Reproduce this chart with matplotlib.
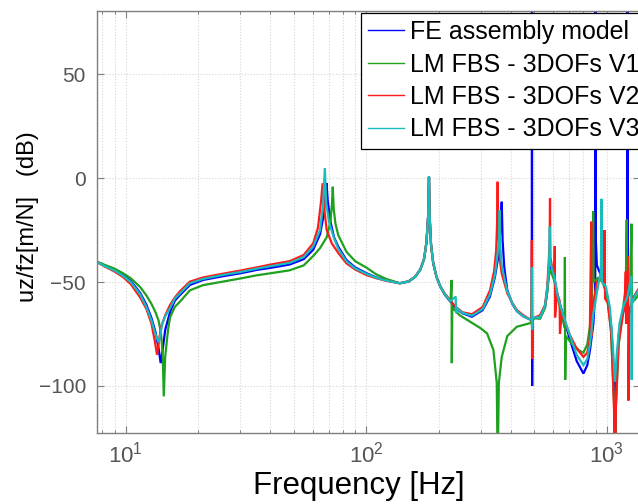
import matplotlib
matplotlib.use("Agg")
import matplotlib.pyplot as plt
from matplotlib.ticker import LogLocator, NullFormatter

# ---------------- data (frequency [Hz], magnitude [dB]) ----------------
labels = ["FE assembly model", "LM FBS - 3DOFs V1", "LM FBS - 3DOFs V2", "LM FBS - 3DOFs V3"]
colors = ["#0000ff", "#1fa01f", "#ff1a1a", "#19bcbc"]

fe = [(7.6,-40.4),(8.2,-42.3),(9.0,-44.2),(9.75,-46.6),(10.5,-49.5),(11.5,-55.3),(12.2,-61),(12.8,-67.3),
      (13.3,-74),(13.7,-81.7),(13.98,-89),(14.2,-84),(14.6,-73),(15.3,-64.4),(16.0,-59),(16.8,-56.3),
      (18.5,-51.4),(21,-49),(25.4,-47.2),(30,-45.8),(35,-44.2),(40,-43.2),(48,-41.6),(55,-39),(60.2,-34.5),
      (64.3,-27),(66.5,-18),(67.8,-8),(68.4,-2.5),(69.2,-11),(71,-21),(73.5,-28.5),(76.5,-33),(82.7,-39.4),
      (90,-43),(100,-45.7),(110,-47.8),(121,-49.2),(138,-50.6),(150,-49.8),(160,-47.5),(168,-44),(174,-39),
      (178,-31),(181,-18),(182.4,0.5),(183.5,-18),(186,-32),(190,-41),(196,-47.5),(203,-52),(212,-56),
      (224,-59.5),(236,-62.5),(251,-65),(275,-66.7),(305,-63.5),(327,-57),(343,-47.5),(355,-37),(361,-25),
      (366,-11.4),(369,-30),(375,-43),(386,-54),(405,-60.5),(423,-64),(450,-66.5),(480,-68),(488,-68.5),
      (489,95),(489.6,-100),(491,-68),(503,-67.2),(528,-67.5),(554,-62),(566,-54),(574,-46),(578,-41.8),
      (584,-43),(593,-44),(604,-47.4),(626,-57),(655,-65),(700,-77),(750,-88),(800,-94),(830,-90),
      (852,-82.7),(880,-70),(895,-55),(899,95),(901,-30),(910,-42),(940,-46),(970,-50),(1010,-58),
      (1045,-72),(1070,-95),(1082,-140),(1095,-98),(1120,-76),(1160,-66),(1200,-60),(1218,-55),
      (1220,95),(1223,-68),(1250,-63),(1290,-58),(1330,-55),(1375,-53)]

v1 = [(7.6,-40.2),(8.2,-41.8),(9.0,-43.6),(9.75,-45.8),(10.5,-48.2),(11.5,-52.5),(12.2,-56.5),(12.8,-60.5),
      (13.3,-64.5),(13.7,-68.5),(14.0,-74),(14.25,-84),(14.4,-105),(14.6,-86),(15.0,-73),(15.3,-67),
      (16.0,-62),(16.8,-59.5),(18.5,-54),(21,-51.5),(25.4,-49.8),(30,-48.3),(35,-46.8),(40,-45.8),
      (48,-44.4),(55,-42),(60.2,-37.5),(64.3,-33.7),(68.5,-28.5),(71,-21),(72.1,-12),(72.6,-4.2),
      (73.3,-15),(74.5,-22),(76.5,-27.4),(82.7,-35.4),(90,-40),(100,-43),(110,-46.3),(121,-48.5),
      (138,-50.6),(150,-49.8),(160,-47.5),(168,-44),(174,-39),(178,-31),(181,-18),(182.4,0.5),
      (183.5,-18),(186,-32),(190,-41),(196,-47.5),(203,-52),(212,-56),(224,-59),(226.4,-49),(226.9,-89),
      (228,-62),(231,-63),(245,-66),(261,-68),(297,-72),(318,-74.7),(338,-82.7),(349,-98.6),(352,-140),
      (356,-98.6),(366,-86),(386,-76),(423,-71.5),(480,-69.8),(487,-69),(488.5,-55),(489.6,-78),
      (492,-68),(503,-67.5),(528,-67.5),(554,-62.5),(566,-55),(575,-47),(580,-44),(590,-46),(604,-49),
      (626,-58),(650,-66),(668,-72),(670,-38),(672,-97),(676,-76),(720,-80),(770,-83),(800,-84),
      (830,-80),(860,-68),(875,-45),(878,-16),(882,-50),(920,-48),(960,-50),(1000,-56),(1040,-72),
      (1075,-110),(1082,-140),(1090,-110),(1120,-80),(1160,-66),(1200,-52),(1211,-20),(1214,-58),
      (1250,-55),(1268,-22),(1272,-60),(1320,-58),(1375,-55)]

v2 = [(7.6,-40.4),(8.2,-42.6),(9.0,-45),(9.75,-47.6),(10.5,-51),(11.5,-57.5),(12.2,-63),(12.8,-70),
      (13.2,-78),(13.5,-85),(13.7,-80),(14.0,-72),(14.6,-66),(15.3,-61),(16.0,-57.5),(16.8,-54.5),
      (18.5,-49.8),(21,-47.8),(25.4,-46),(30,-44.5),(35,-43),(40,-41.6),(48,-40),(55,-37),(60.2,-31.4),
      (63,-24),(64.8,-12),(65.9,-2.5),(66.8,-14),(68.5,-25),(72,-31.5),(76.5,-36),(82.7,-41),(90,-44),
      (100,-46.6),(110,-48.2),(121,-49.4),(138,-50.6),(150,-49.6),(160,-47.3),(168,-43.8),(174,-38.8),
      (178,-31),(181,-18),(182.4,0.5),(183.5,-18),(186,-32),(190,-41),(196,-47.5),(203,-52),(212,-55.5),
      (224,-59),(236,-62),(251,-64.5),(275,-65.5),(305,-62),(327,-54),(340,-45),(347,-35),(350,-22),
      (352,-1.8),(354,-25),(360,-40),(366,-46),(386,-55.4),(405,-60),(423,-63.5),(450,-66),(480,-68),
      (487,-68),(488.3,-30),(489.3,-87),(491,-68),(503,-67),(528,-66),(554,-61),(566,-52),(574,-40),
      (579,-30),(581,-9.8),(583,-38),(593,-43),(605,-46),(608,-32.7),(610,-67),(620,-55),(637,-59),
      (639,-75),(650,-65),(700,-75),(750,-82),(800,-86),(830,-84),(850,-78),(862,-21),(864,-76),
      (880,-60),(910,-50),(940,-48),(975,-49),(980,-25),(984,-58),(1010,-60),(1045,-75),(1075,-115),
      (1082,-140),(1092,-110),(1120,-80),(1160,-68),(1190,-60),(1200,-45),(1204,-70),(1229,-37.5),
      (1231,-107),(1240,-65),(1280,-58),(1330,-55),(1375,-52)]

v3 = [(7.6,-40.4),(8.2,-42.4),(9.0,-44.5),(9.75,-47),(10.5,-50),(11.5,-56),(12.2,-62),(12.8,-68.5),
      (13.3,-75),(13.7,-79),(13.9,-76),(14.2,-70),(14.6,-66.5),(15.3,-62.5),(16.0,-58),(16.8,-55.5),
      (18.5,-50.6),(21,-48.5),(25.4,-46.6),(30,-45.2),(35,-43.6),(40,-42.4),(48,-40.8),(55,-38),
      (60.2,-33),(64.3,-25),(66.2,-13),(67.3,4.8),(68.2,-12),(70,-21),(73.5,-29),(76.5,-34),(82.7,-40),
      (90,-43.5),(100,-46),(110,-48),(121,-49.3),(138,-50.6),(150,-49.7),(160,-47.4),(168,-44),(174,-39),
      (178,-31),(181,-18),(182.4,0.8),(183.5,-18),(186,-32),(190,-41),(196,-47.5),(203,-52),(212,-55.8),
      (224,-59.2),(235.5,-57),(236.5,-65),(238,-62.5),(251,-64.8),(275,-66.2),(305,-63),(327,-56),
      (343,-46.5),(352,-36),(357,-28),(359,-15.4),(361,-33),(366,-42),(386,-54.5),(405,-60.2),(423,-64),
      (450,-66.5),(480,-68),(488,-68),(488.6,-43),(489.4,-73),(491,-68),(503,-67),(528,-67),(554,-61.5),
      (566,-53),(574,-44),(578,-34),(580,-23.4),(582,-40),(593,-44),(604,-47),(626,-57),(655,-65),
      (700,-75),(750,-85),(800,-90),(830,-87),(852,-80),(880,-65),(920,-52),(945,-45),(951,-10),
      (955,-50),(990,-52),(1030,-62),(1060,-80),(1082,-98),(1100,-85),(1130,-70),(1170,-62),(1220,-57),
      (1265,-47),(1270,-97),(1275,-60),(1320,-56),(1375,-53)]

series = [fe, v1, v2, v3]

x_limits = (7.6, 1375)
y_limits = (-122.6, 80.3)
y_ticks = [-100, -50, 0, 50]

# ---------------- figure ----------------
plt.rcParams['font.family'] = ['Liberation Sans', 'DejaVu Sans']
plt.rcParams['mathtext.fontset'] = 'custom'
plt.rcParams['mathtext.rm'] = 'Liberation Sans'

fig = plt.figure(figsize=(6.38, 5.04), dpi=100)
ax = fig.add_axes([97/638, 71/504, (640-97)/638, (433-11)/504])

for data, c, lab in zip(series, colors, labels):
    f = [p[0] for p in data]
    d = [p[1] for p in data]
    ax.plot(f, d, color=c, lw=1.6, label=lab, solid_joinstyle='miter')

ax.set_xscale('log')
ax.set_xlim(*x_limits)
ax.set_ylim(*y_limits)
ax.set_yticks(y_ticks)
ax.xaxis.set_major_locator(LogLocator(base=10, numticks=10))
ax.xaxis.set_minor_locator(LogLocator(base=10, subs=range(2, 10), numticks=20))
ax.xaxis.set_minor_formatter(NullFormatter())

gray = '#7f7f7f'
for s in ax.spines.values():
    s.set_color(gray)
    s.set_linewidth(1.0)

ax.tick_params(axis='both', which='both', direction='in', top=True, right=True, colors=gray)
ax.tick_params(axis='both', which='major', length=5, width=0.8)
ax.tick_params(axis='x', which='minor', length=2.5, width=0.7)
ax.tick_params(axis='x', which='major', labelsize=16, pad=6, labelcolor='#555555')
ax.tick_params(axis='y', which='major', labelsize=15, pad=8, labelcolor='#555555')

ax.grid(True, which='major', axis='both', linestyle=':', color='#d4d4d4', lw=0.8)
ax.grid(True, which='minor', axis='x', linestyle=':', color='#d4d4d4', lw=0.8)
ax.set_axisbelow(True)

fig.text(359/638, 1-486/504, 'Frequency [Hz]', fontsize=22.5, ha='center', va='center', color='black')
fig.text(28/638, 1-217/504, 'uz/fz[m/N]   (dB)', fontsize=17, rotation=90, ha='center', va='center', color='black')

leg = ax.legend(loc='upper left', bbox_to_anchor=(361/638, 1-13/504), bbox_transform=fig.transFigure,
                fontsize=18, frameon=True, fancybox=False, framealpha=1, edgecolor='black',
                handlelength=1.45, handletextpad=0.22, borderpad=0.28, labelspacing=0.34, borderaxespad=0)
leg.get_frame().set_linewidth(0.9)
for l in leg.get_lines():
    l.set_linewidth(1.0)

fig.savefig('out.png', dpi=100)
